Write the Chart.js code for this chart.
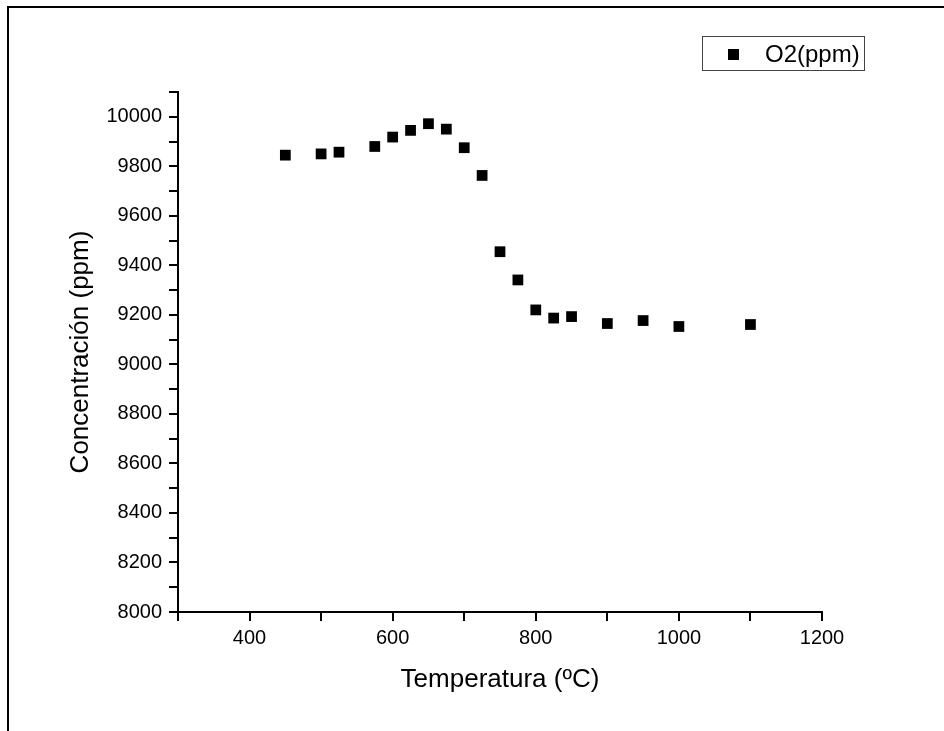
<!DOCTYPE html>
<html>
<head>
<meta charset="utf-8">
<script src="https://cdn.jsdelivr.net/npm/chart.js@4"></script>
<style>
  body { margin: 0; background: #fff; }
  #wrap { position: relative; width: 944px; height: 731px; overflow: hidden; }
  #frame { position: absolute; left: 7px; top: 6px; width: 960px; height: 760px;
           border-top: 2px solid #000; border-left: 2px solid #000; pointer-events: none; }
  canvas { position: absolute; left: 0; top: 0; }
</style>
</head>
<body>
<div id="wrap">
  <canvas id="myChart" width="944" height="731"></canvas>
  <div id="frame"></div>
</div>
<script>
// temperatures (ºC)
const temps = [450, 500, 525, 575, 600, 625, 650, 675, 700, 725, 750, 775, 800, 825, 850, 900, 950, 1000, 1100]
// O2 concentration (ppm)
const o2 = [9845, 9850, 9857, 9880, 9918, 9945, 9972, 9950, 9875, 9763, 9455, 9341, 9220, 9187, 9193, 9165, 9177, 9153, 9161]
const seriesLabel = 'O2(ppm)'
const xTitle = 'Temperatura (ºC)'
const yTitle = 'Concentración (ppm)'

Chart.defaults.font.family = '"Liberation Sans", Arial, sans-serif'
Chart.defaults.color = '#000'

// legend box drawn in the top right, outside the plot area
const boxLegend = {
  id: 'boxLegend',
  afterDraw(chart) {
    const ctx = chart.ctx
    ctx.save()
    ctx.strokeStyle = '#444'
    ctx.lineWidth = 1
    ctx.strokeRect(702.5, 36.5, 162, 34)
    ctx.fillStyle = '#000'
    ctx.fillRect(728, 49, 11, 11)
    ctx.font = '24px "Liberation Sans", Arial, sans-serif'
    ctx.textBaseline = 'middle'
    ctx.fillText(chart.data.datasets[0].label, 765, 55)
    ctx.restore()
  }
}

function mainEvent() {
  const points = temps.map((t, i) => ({ x: t, y: o2[i] }))

  const axisBits = {
    border: { display: true, color: '#000', width: 2 },
    grid: { display: true, drawOnChartArea: false, drawTicks: true, tickLength: 9, color: '#000', lineWidth: 2 }
  }

  new Chart(document.getElementById('myChart'), {
    type: 'scatter',
    data: {
      datasets: [{
        label: seriesLabel,
        data: points,
        pointStyle: 'rect',
        pointRadius: 7.6,
        pointHoverRadius: 7.6,
        backgroundColor: '#000',
        borderColor: '#000',
        borderWidth: 0
      }]
    },
    options: {
      responsive: false,
      animation: false,
      devicePixelRatio: 1,
      layout: { padding: { left: 0, top: 92, right: 122, bottom: 19 } },
      plugins: { legend: { display: false }, tooltip: { enabled: false } },
      scales: {
        x: {
          type: 'linear',
          min: 300,
          max: 1200,
          ...axisBits,
          ticks: {
            stepSize: 100,
            autoSkip: false,
            maxRotation: 0,
            padding: 5,
            font: { size: 20 },
            callback: (v) => (v % 200 === 0 && v > 300) ? String(v) : ''
          },
          title: { display: true, text: xTitle, font: { size: 26 }, padding: { top: 0, bottom: 17 } },
          afterFit: (s) => { s.height = 100 }
        },
        y: {
          type: 'linear',
          min: 8000,
          max: 10100,
          ...axisBits,
          ticks: {
            stepSize: 100,
            autoSkip: false,
            padding: 7,
            font: { size: 20 },
            callback: (v) => (v % 200 === 0) ? String(v) : ''
          },
          title: { display: true, text: yTitle, font: { size: 26 }, padding: { top: 65, bottom: 0 } },
          afterFit: (s) => { s.width = 178 }
        }
      }
    },
    plugins: [boxLegend]
  })
}

document.addEventListener('DOMContentLoaded', () => mainEvent())
</script>
</body>
</html>
